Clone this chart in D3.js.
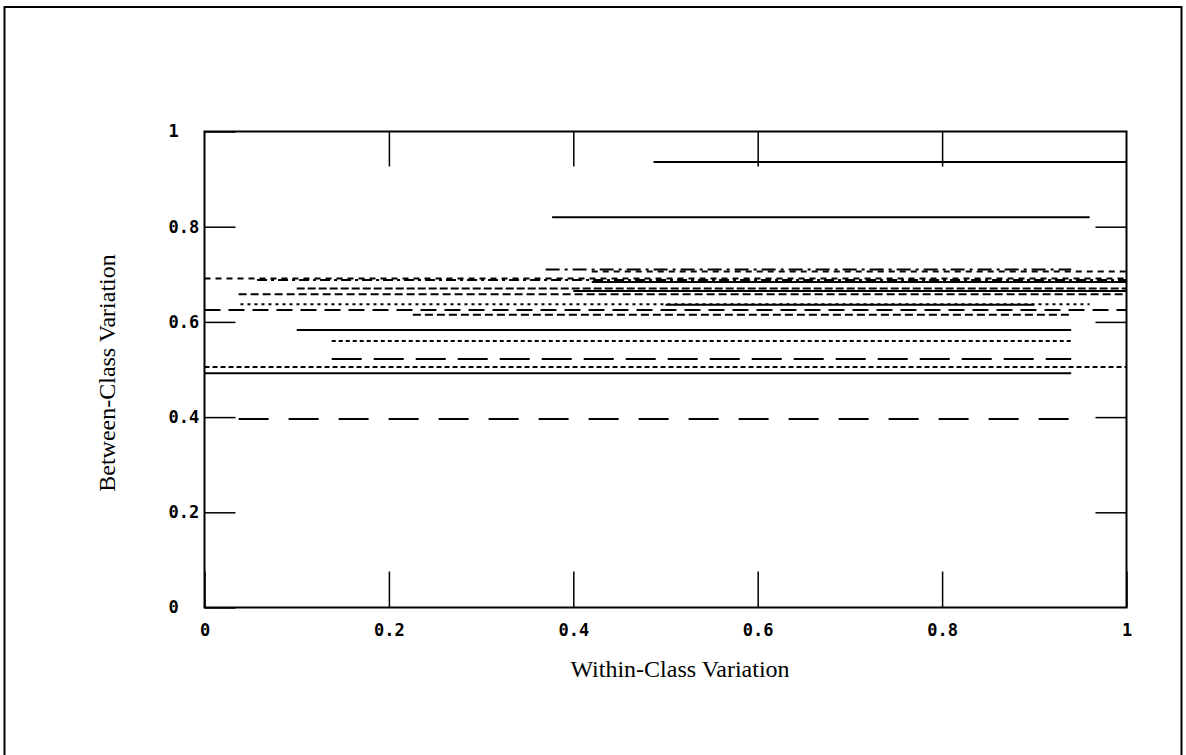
<!DOCTYPE html>
<html><head><meta charset="utf-8">
<script src="https://cdn.jsdelivr.net/npm/d3@7/dist/d3.min.js"></script>
<style>
body{margin:0;background:#fff;}
svg{display:block;}
.tick text{font-family:"DejaVu Sans Mono",monospace;font-weight:bold;font-size:17px;fill:#000;}
.title{font-family:"Liberation Serif","Times New Roman",serif;font-size:24px;fill:#000;}
</style></head>
<body>
<svg id="chart" width="1186" height="755"></svg>
<script>
// ---- data ----
const tickValues = [0, 0.2, 0.4, 0.6, 0.8, 1];
const tickLabels = ["0", "0.2", "0.4", "0.6", "0.8", "1"];
const xLabel = "Within-Class Variation";
const yLabel = "Between-Class Variation";
// horizontal segments: between-class value, within-class start/end
const segValue = [0.936, 0.820, 0.710, 0.706, 0.691, 0.688, 0.684, 0.670, 0.665, 0.658, 0.637, 0.636, 0.625, 0.615, 0.583, 0.560, 0.522, 0.505, 0.492, 0.396];
const segStart = [0.487, 0.377, 0.370, 0.420, 0.000, 0.057, 0.420, 0.100, 0.400, 0.037, 0.039, 0.500, 0.000, 0.226, 0.100, 0.138, 0.138, 0.000, 0.000, 0.037];
const segEnd   = [1.000, 0.960, 0.940, 1.000, 1.000, 1.000, 1.000, 1.000, 1.000, 1.000, 0.960, 0.900, 1.000, 0.940, 0.940, 0.940, 0.940, 1.000, 0.940, 0.940];
// line style for each segment
const segDash  = ["", "", "14,5,3,5", "6,5", "6,5", "10,4,3,4", "", "8,3", "", "8,4", "3,4", "", "16,8", "8,4", "", "4,3", "30,12", "5,3", "", "30,20"];

// ---- layout ----
const svg = d3.select("#chart");
const x = d3.scaleLinear().domain([0, 1]).range([204.5, 1126.5]);
const y = d3.scaleLinear().domain([0, 1]).range([607.5, 131.5]);

// outer frame
svg.append("rect").attr("x", 4.5).attr("y", 7).attr("width", 1177).attr("height", 752)
  .attr("fill", "none").attr("stroke", "#000").attr("stroke-width", 2);

// segments
const segs = d3.range(segValue.length).map(i => ({v: segValue[i], a: segStart[i], b: segEnd[i], d: segDash[i]}));
svg.append("g").selectAll("line").data(segs).join("line")
  .attr("x1", d => x(d.a)).attr("x2", d => x(d.b))
  .attr("y1", d => y(d.v)).attr("y2", d => y(d.v))
  .attr("stroke", "#000").attr("stroke-width", 2)
  .attr("stroke-dasharray", d => d.d || null);

// axes (inward ticks on all sides)
const fmt = (d) => tickLabels[tickValues.indexOf(d)];
const xb = svg.append("g").attr("transform", `translate(0,${y(0)})`)
  .call(d3.axisBottom(x).tickValues(tickValues).tickFormat(fmt).tickSize(-36).tickPadding(16));
const xt = svg.append("g").attr("transform", `translate(0,${y(1)})`)
  .call(d3.axisTop(x).tickValues(tickValues.slice(1, -1)).tickFormat("").tickSize(-35));
const yl = svg.append("g").attr("transform", `translate(${x(0)},0)`)
  .call(d3.axisLeft(y).tickValues(tickValues).tickFormat(fmt).tickSize(-31).tickPadding(10));
const yr = svg.append("g").attr("transform", `translate(${x(1)},0)`)
  .call(d3.axisRight(y).tickValues(tickValues.slice(1, -1)).tickFormat("").tickSize(-31));
[xb, xt, yl, yr].forEach(g => {
  g.select(".domain").remove();
  g.selectAll(".tick line").attr("stroke", "#000").attr("stroke-width", 1.5);
});
yl.selectAll(".tick text").attr("text-anchor", "start").attr("x", -36);

// plot frame
svg.append("rect").attr("x", x(0)).attr("y", y(1)).attr("width", x(1) - x(0)).attr("height", y(0) - y(1))
  .attr("fill", "none").attr("stroke", "#000").attr("stroke-width", 2);

// titles
svg.append("text").attr("class", "title").attr("x", 680).attr("y", 677)
  .attr("text-anchor", "middle").text(xLabel);
svg.append("text").attr("class", "title")
  .attr("transform", `translate(115,373) rotate(-90)`)
  .attr("text-anchor", "middle").text(yLabel);
</script>
</body></html>
